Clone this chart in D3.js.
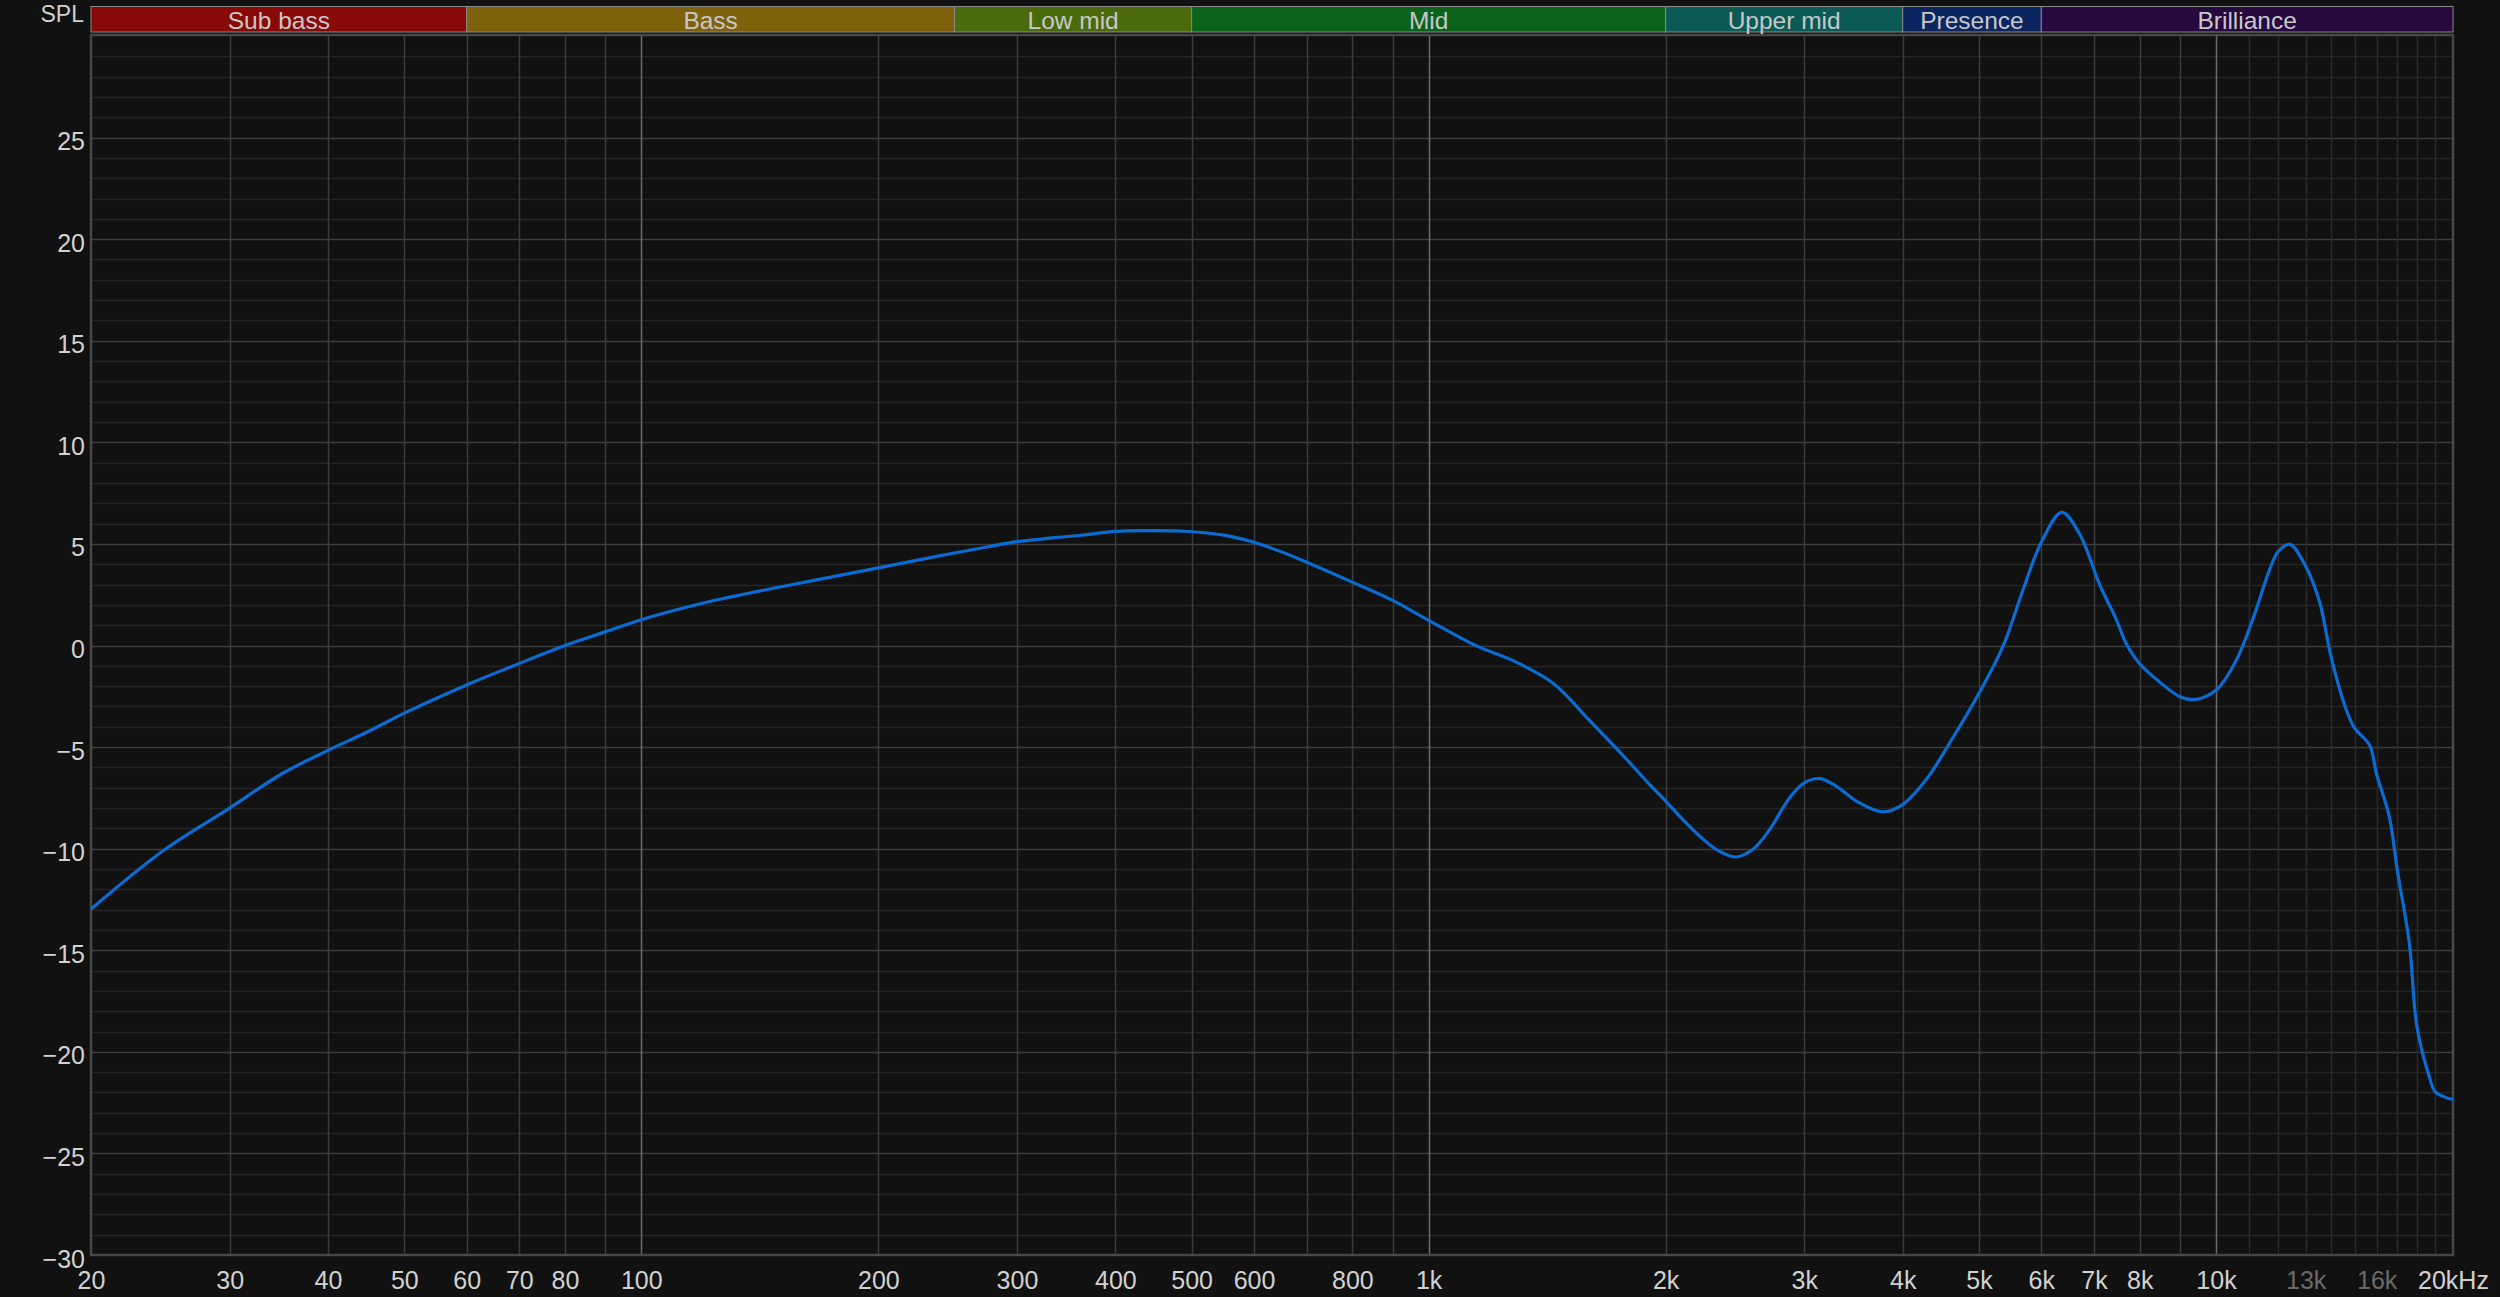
<!DOCTYPE html>
<html>
<head>
<meta charset="utf-8">
<script src="https://cdn.jsdelivr.net/npm/d3@7"></script>
<style>
  html, body { margin: 0; padding: 0; background: #111111; }
  svg { display: block; }
  text { font-family: "Liberation Sans", Arial, sans-serif; }
</style>
</head>
<body>
<svg id="chart" width="2500" height="1297"></svg>
<script>
// ---------- data ----------
const freqs = [20, 24.7, 30, 35, 40, 45, 50, 60, 70, 80, 90, 100, 120, 150, 200, 238, 275, 300, 333, 365,
  400, 449, 500, 554, 600, 652, 700, 800, 900, 1000, 1150, 1276, 1439, 1598, 1774, 1909, 2000, 2102, 2208, 2318,
  2454, 2582, 2712, 2873, 3000, 3140, 3296, 3493, 3776, 4000, 4285, 4589, 5000, 5360, 5684, 6000, 6370, 6711, 7116, 7467,
  7690, 8000, 8476, 9000, 9394, 10000, 10600, 11140, 11690, 12000, 12410, 13000, 13540, 14000, 14630, 15000, 15670, 16000, 16600, 17000,
  17600, 18000, 18670, 19000, 20000];
const splValues = [-12.97, -10.1, -8.0, -6.3, -5.16, -4.23, -3.33, -1.94, -0.88, 0.0, 0.67, 1.27, 2.09, 2.88, 3.82, 4.4, 4.85, 5.11, 5.3, 5.44,
  5.62, 5.65, 5.6, 5.41, 5.08, 4.59, 4.1, 3.12, 2.22, 1.24, -0.02, -0.72, -1.86, -3.66, -5.5, -6.85, -7.66, -8.56, -9.38, -10.03,
  -10.41, -10.03, -9.05, -7.5, -6.76, -6.55, -6.93, -7.66, -8.19, -7.83, -6.6, -4.8, -2.35, -0.07, 2.71, 5.08, 6.55, 5.49, 3.0, 1.3,
  0.1, -0.9, -1.79, -2.52, -2.66, -2.2, -0.76, 1.31, 3.7, 4.63, 4.98, 3.9, 2.14, -0.55, -3.14, -4.07, -4.9, -6.35, -8.42, -11.1,
  -14.63, -18.77, -21.25, -21.98, -22.35];

const bandNames = ["Sub bass", "Bass", "Low mid", "Mid", "Upper mid", "Presence", "Brilliance"];
const bandStarts = [20, 60, 250, 500, 2000, 4000, 6000];
const bandEnds = [60, 250, 500, 2000, 4000, 6000, 20000];
const bandColors = ["#890808", "#7f600b", "#4a6a0c", "#0b621b", "#0b5a55", "#0b2660", "#25093f"];

const xTickValues = [20, 30, 40, 50, 60, 70, 80, 100, 200, 300, 400, 500, 600, 800, 1000, 2000, 3000, 4000, 5000, 6000, 7000, 8000, 10000, 13000, 16000, 20000];
const xTickLabels = ["20", "30", "40", "50", "60", "70", "80", "100", "200", "300", "400", "500", "600", "800", "1k", "2k", "3k", "4k", "5k", "6k", "7k", "8k", "10k", "13k", "16k", "20kHz"];
const dimTickValues = [13000, 16000];
const yTickValues = [-30, -25, -20, -15, -10, -5, 0, 5, 10, 15, 20, 25];
const vGridMain = [30, 40, 50, 60, 70, 80, 90, 200, 300, 400, 500, 600, 700, 800, 900, 2000, 3000, 4000, 5000, 6000, 7000, 8000, 9000];
const vGridDecade = [100, 1000, 10000];
const vGridFine = [11000, 12000, 13000, 14000, 15000, 16000, 17000, 18000, 19000];

// ---------- layout ----------
const L = 91, R = 2453, T = 36, B = 1255;
const x = d3.scaleLog().domain([20, 20000]).range([L, R]);
const y = d3.scaleLinear().domain([-30, 30]).range([B, T]);

const svg = d3.select("#chart");
svg.append("rect").attr("width", 2500).attr("height", 1297).attr("fill", "#111111");

// horizontal grid
const g = svg.append("g");
g.selectAll("line.hmin").data(d3.range(-29, 30)).enter().append("line")
  .attr("x1", L).attr("x2", R)
  .attr("y1", d => Math.round(y(d)) + 0.5).attr("y2", d => Math.round(y(d)) + 0.5)
  .attr("stroke", d => d % 5 === 0 ? "#3e3e3e" : "#252525").attr("stroke-width", 1.5);

// vertical grid
g.selectAll("line.vfine").data(vGridFine).enter().append("line")
  .attr("x1", d => Math.round(x(d)) + 0.5).attr("x2", d => Math.round(x(d)) + 0.5)
  .attr("y1", T).attr("y2", B).attr("stroke", "#2a2a2a").attr("stroke-width", 1.5);
g.selectAll("line.vmain").data(vGridMain).enter().append("line")
  .attr("x1", d => Math.round(x(d)) + 0.5).attr("x2", d => Math.round(x(d)) + 0.5)
  .attr("y1", T).attr("y2", B).attr("stroke", "#3c3c3c").attr("stroke-width", 1.5);
g.selectAll("line.vdec").data(vGridDecade).enter().append("line")
  .attr("x1", d => Math.round(x(d)) + 0.5).attr("x2", d => Math.round(x(d)) + 0.5)
  .attr("y1", T).attr("y2", B).attr("stroke", "#6c6c6c").attr("stroke-width", 1.5);

// plot border
svg.append("rect").attr("x", L).attr("y", T - 1).attr("width", R - L).attr("height", B - T + 1)
  .attr("fill", "none").attr("stroke", "#474747").attr("stroke-width", 2.5);

// frequency bands
const bands = bandNames.map((n, i) => ({ name: n, s: bandStarts[i], e: bandEnds[i], c: bandColors[i] }));
const bg = svg.append("g");
bg.selectAll("rect").data(bands).enter().append("rect")
  .attr("x", d => x(d.s)).attr("width", d => x(d.e) - x(d.s))
  .attr("y", 6.5).attr("height", 25.5)
  .attr("fill", d => d.c).attr("stroke", "#8a8a8a").attr("stroke-width", 1);
bg.selectAll("text").data(bands).enter().append("text")
  .attr("x", d => (x(d.s) + x(d.e)) / 2).attr("y", 29)
  .attr("text-anchor", "middle").attr("font-size", 24.5).attr("fill", "#c8c8c8")
  .text(d => d.name);

// SPL label
svg.append("text").attr("x", 84).attr("y", 22).attr("text-anchor", "end")
  .attr("font-size", 23).attr("fill", "#d0d0d0").text("SPL");

// y axis labels
const yAxis = d3.axisLeft(y).tickValues(yTickValues).tickSize(0).tickPadding(0).tickFormat(d3.format("d"));
const ya = svg.append("g").attr("transform", `translate(85,0)`).call(yAxis);
ya.select(".domain").remove();
ya.selectAll("text").attr("font-family", "'Liberation Sans', Arial, sans-serif")
  .attr("font-size", 25).attr("fill", "#d2d2d2").attr("dy", null)
  .attr("y", d => 12).attr("x", 0);

// x axis labels
const xAxis = d3.axisBottom(x).tickValues(xTickValues).tickSize(0).tickPadding(0)
  .tickFormat((d, i) => xTickLabels[i]);
const xa = svg.append("g").attr("transform", `translate(0,0)`).call(xAxis);
xa.select(".domain").remove();
xa.selectAll("text").attr("font-family", "'Liberation Sans', Arial, sans-serif")
  .attr("font-size", 25).attr("dy", null).attr("y", 1289)
  .attr("fill", d => dimTickValues.includes(d) ? "#6a6a6a" : "#d2d2d2");

// curve
const pts = freqs.map((f, i) => [f, splValues[i]]);
const line = d3.line().x(d => x(d[0])).y(d => y(d[1])).curve(d3.curveCatmullRom.alpha(0.5));
svg.append("path").datum(pts).attr("d", line)
  .attr("fill", "none").attr("stroke", "#0a6cd2").attr("stroke-width", 3.2)
  .attr("stroke-linejoin", "round");
</script>
</body>
</html>
